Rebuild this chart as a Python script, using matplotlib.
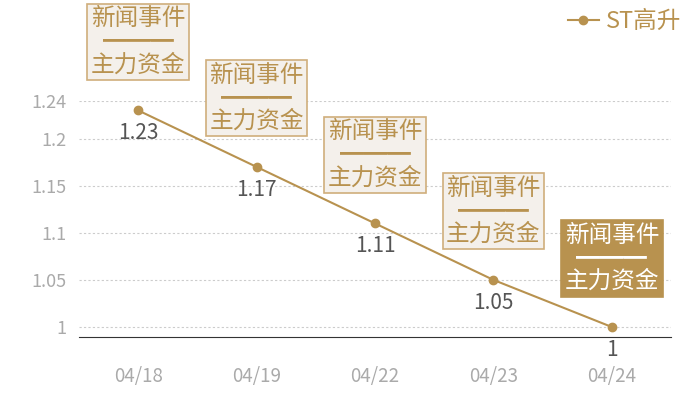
import matplotlib
matplotlib.use("Agg")
import matplotlib.pyplot as plt
from matplotlib.lines import Line2D

plt.rcParams['font.family'] = ['Noto Sans CJK SC', 'DejaVu Sans']

# data
dates = ["04/18", "04/19", "04/22", "04/23", "04/24"]
values = [1.23, 1.17, 1.11, 1.05, 1.0]
value_labels = ["1.23", "1.17", "1.11", "1.05", "1"]
yticks = [1, 1.05, 1.1, 1.15, 1.2, 1.24]
ytick_labels = ["1", "1.05", "1.1", "1.15", "1.2", "1.24"]
event_text = "新闻事件\n━━━\n主力资金"
series_name = "ST高升"

gold = "#b8924f"
fig = plt.figure(figsize=(7, 4), dpi=100)
ax = fig.add_axes([79 / 700, 63 / 400, 592 / 700, 236 / 400])

x = list(range(len(dates)))
ax.plot(x, values, color=gold, lw=1.5, marker="o", ms=6, zorder=3)

ax.set_xlim(-0.5, len(dates) - 0.5)
ax.set_ylim(1 - 10 / 940, 1.24)
ax.set_yticks(yticks)
ax.set_yticklabels(ytick_labels)
ax.set_xticks(x)
ax.set_xticklabels(dates)
ax.tick_params(axis="both", length=0, colors="#aaaaaa", labelsize=13)
ax.tick_params(axis="x", labelsize=13.5, pad=21)
ax.tick_params(axis="y", pad=9)
ax.grid(axis="y", linestyle=(0, (2, 2)), color="#cccccc", lw=0.8)
for s in ["top", "right", "left"]:
    ax.spines[s].set_visible(False)
ax.spines["bottom"].set_color("#333333")

for i, (v, lab) in enumerate(zip(values, value_labels)):
    ax.annotate(lab, (i, v), xytext=(0, -12), textcoords="offset pixels",
                ha="center", va="top", fontsize=15, color="#555555")
    last = i == len(values) - 1
    ax.annotate(event_text, (i, v), xytext=(0, 34), textcoords="offset pixels",
                ha="center", va="bottom", fontsize=17, linespacing=1.0,
                color="white" if last else gold,
                bbox=dict(boxstyle="square,pad=0.15",
                          fc=gold if last else "#f4f0eb",
                          ec=gold if last else "#cfae7c", lw=1.2),
                annotation_clip=False, zorder=5)

handle = Line2D([], [], color=gold, lw=1.5, marker="o", ms=6)
leg = fig.legend([handle], [series_name], loc="upper right",
                 bbox_to_anchor=(0.99, 1.005), frameon=False, fontsize=17,
                 handlelength=1.3, handletextpad=0.3, borderaxespad=0.1)
for t in leg.get_texts():
    t.set_color(gold)

fig.savefig("out.png", dpi=100)
